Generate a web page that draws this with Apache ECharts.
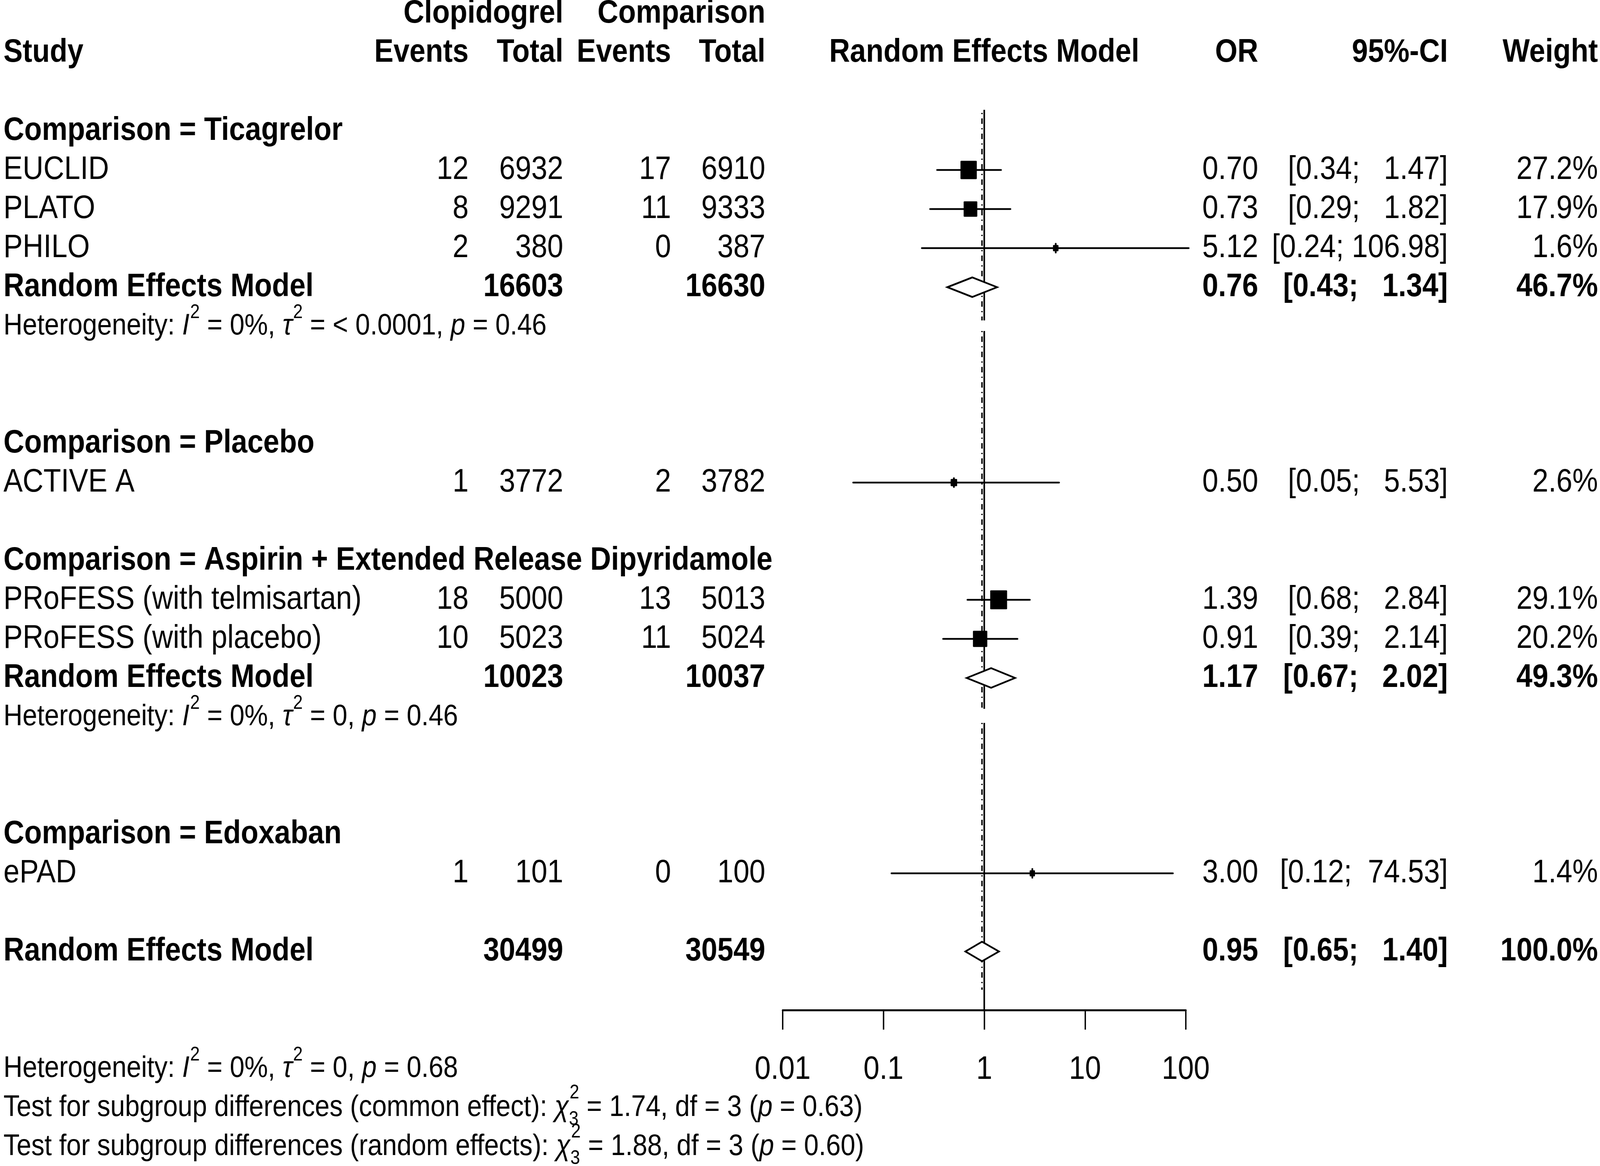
<!DOCTYPE html>
<html><head><meta charset="utf-8">
<script src="https://cdn.jsdelivr.net/npm/echarts@6.0.0/dist/echarts.min.js"></script>
<style>html,body{margin:0;padding:0;background:#fff;overflow:hidden;width:100%;height:100%}
#c{width:4616px;height:2984px;transform-origin:0 0;position:absolute;left:0;top:0}</style>
</head><body><div id="c"></div>
<script>
// ---------------- DATA ----------------
const groupNames = ['Ticagrelor', 'Placebo', 'Aspirin + Extended Release Dipyridamole', 'Edoxaban'];
const studyNames = ['EUCLID', 'PLATO', 'PHILO', 'ACTIVE A', 'PRoFESS (with telmisartan)', 'PRoFESS (with placebo)', 'ePAD'];
const studyGroup = [0, 0, 0, 1, 2, 2, 3];
const clopEvents = [12, 8, 2, 1, 18, 10, 1];
const clopTotal = [6932, 9291, 380, 3772, 5000, 5023, 101];
const compEvents = [17, 11, 0, 2, 13, 11, 0];
const compTotal = [6910, 9333, 387, 3782, 5013, 5024, 100];
const studyOR = [0.70, 0.73, 5.12, 0.50, 1.39, 0.91, 3.00];
const studyLower = [0.34, 0.29, 0.24, 0.05, 0.68, 0.39, 0.12];
const studyUpper = [1.47, 1.82, 106.98, 5.53, 2.84, 2.14, 74.53];
const studyWeight = [27.2, 17.9, 1.6, 2.6, 29.1, 20.2, 1.4];

const pooledGroup = [0, 2];
const pooledOR = [0.76, 1.17];
const pooledLower = [0.43, 0.67];
const pooledUpper = [1.34, 2.02];
const pooledWeight = [46.7, 49.3];
const pooledClopTotal = [16603, 10023];
const pooledCompTotal = [16630, 10037];
const pooledI2 = ['0%', '0%'];
const pooledTau2 = ['< 0.0001', '0'];
const pooledHetP = ['0.46', '0.46'];

const overallOR = 0.95, overallLower = 0.65, overallUpper = 1.40, overallWeight = 100.0;
const overallClopTotal = 30499, overallCompTotal = 30549;
const overallI2 = '0%', overallTau2 = '0', overallHetP = '0.68';
const testLabels = ['common effect', 'random effects'];
const testChi2 = ['1.74', '1.88'];
const testDf = ['3', '3'];
const testP = ['0.63', '0.60'];

const tickValues = [0.01, 0.1, 1, 10, 100];
const tickLabels = ['0.01', '0.1', '1', '10', '100'];

// ---------------- LAYOUT / STYLE ----------------
const W = 4616, H = 2984;
const FONT = '"Liberation Sans", Arial, Helvetica, sans-serif';
const FS = 83, HFS = 76, SUPFS = 50;
const COL = { study: 10, ce: 1352, ct: 1625, pe: 1936, pt: 2208, or: 3630, ci: 4177, w: 4610 };
const LW = 4.5;

// map the 4616x2984 design onto the actual viewport
(function fit() {
  const sx = window.innerWidth / W, sy = window.innerHeight / H;
  document.getElementById('c').style.transform = 'scale(' + sx + ',' + sy + ')';
})();

// row layout
const studyRow = [], headerRow = [], pooledRow = [], hetRow = [];
let r = 3;
groupNames.forEach((g, gi) => {
  headerRow[gi] = r++;
  studyGroup.forEach((sg, si) => { if (sg === gi) studyRow[si] = r++; });
  const pi = pooledGroup.indexOf(gi);
  if (pi >= 0) { pooledRow[pi] = r++; hetRow[pi] = r++; r += 2; } else { r += 1; }
});
const overallRow = r;
const overallHetRow = overallRow + 3;
const refSolidSpans = [[2.46, 7.85], [8.12, 17.79], [18.15, 25.5]];
const refDotSpans = [[2.54, 7.85], [8.12, 17.79], [18.15, 24.98]];

const f2 = v => v.toFixed(2);
const fw = v => v.toFixed(1) + '%';
const fci = (lo, up) => '[' + f2(lo) + '; ' + f2(up).padStart(6) + ']';

// text items
const texts = [];
function T(row, x, text, align, bold) { texts.push({ row, x, text: String(text), align: align || 'right', bold: !!bold }); }
function R(row, x, parts) { texts.push({ row, x, parts }); }

T(0, COL.ct, 'Clopidogrel', 'right', true);
T(0, COL.pt, 'Comparison', 'right', true);
T(1, COL.study, 'Study', 'left', true);
T(1, COL.ce, 'Events', 'right', true);
T(1, COL.ct, 'Total', 'right', true);
T(1, COL.pe, 'Events', 'right', true);
T(1, COL.pt, 'Total', 'right', true);
T(1, 'center1', 'Random Effects Model', 'center', true);
T(1, COL.or, 'OR', 'right', true);
T(1, COL.ci, '95%-CI', 'right', true);
T(1, COL.w, 'Weight', 'right', true);

groupNames.forEach((g, gi) => T(headerRow[gi], COL.study, 'Comparison = ' + g, 'left', true));
studyNames.forEach((s, i) => {
  const row = studyRow[i];
  T(row, COL.study, s, 'left');
  T(row, COL.ce, clopEvents[i]);
  T(row, COL.ct, clopTotal[i]);
  T(row, COL.pe, compEvents[i]);
  T(row, COL.pt, compTotal[i]);
  T(row, COL.or, f2(studyOR[i]));
  T(row, COL.ci, fci(studyLower[i], studyUpper[i]));
  T(row, COL.w, fw(studyWeight[i]));
});
function hetParts(i2, tau2, p) {
  return [{ t: 'Heterogeneity: ' }, { t: 'I', it: true }, { sup: '2' }, { t: ' = ' + i2 + ', ' },
    { t: 'τ', it: true }, { sup: '2' }, { t: ' = ' + tau2 + ', ' }, { t: 'p', it: true }, { t: ' = ' + p }];
}
pooledGroup.forEach((g, pi) => {
  const row = pooledRow[pi];
  T(row, COL.study, 'Random Effects Model', 'left', true);
  T(row, COL.ct, pooledClopTotal[pi], 'right', true);
  T(row, COL.pt, pooledCompTotal[pi], 'right', true);
  T(row, COL.or, f2(pooledOR[pi]), 'right', true);
  T(row, COL.ci, fci(pooledLower[pi], pooledUpper[pi]), 'right', true);
  T(row, COL.w, fw(pooledWeight[pi]), 'right', true);
  R(hetRow[pi], COL.study, hetParts(pooledI2[pi], pooledTau2[pi], pooledHetP[pi]));
});
T(overallRow, COL.study, 'Random Effects Model', 'left', true);
T(overallRow, COL.ct, overallClopTotal, 'right', true);
T(overallRow, COL.pt, overallCompTotal, 'right', true);
T(overallRow, COL.or, f2(overallOR), 'right', true);
T(overallRow, COL.ci, fci(overallLower, overallUpper), 'right', true);
T(overallRow, COL.w, fw(overallWeight), 'right', true);
R(overallHetRow, COL.study, hetParts(overallI2, overallTau2, overallHetP));
testLabels.forEach((lab, k) => {
  R(overallHetRow + 1 + k, COL.study, [{ t: 'Test for subgroup differences (' + lab + '): ' }, { t: 'χ', it: true },
    { sup: '2', sub: testDf[k] }, { t: ' = ' + testChi2[k] + ', df = ' + testDf[k] + ' (' }, { t: 'p', it: true }, { t: ' = ' + testP[k] + ')' }]);
});

// text measuring
const mctx = document.createElement('canvas').getContext('2d');
function measure(t, size, italic, bold) {
  mctx.font = (italic ? 'italic ' : '') + (bold ? 'bold ' : '') + size + 'px ' + FONT;
  return mctx.measureText(t).width;
}
function textEl(x, y, t, size, italic, bold, align) {
  return { type: 'text', style: { x, y, text: t, fill: '#000', fontSize: size, fontFamily: FONT,
    fontStyle: italic ? 'italic' : 'normal', fontWeight: bold ? 'bold' : 'normal', align: align || 'left', verticalAlign: 'middle' } };
}
const MID = 0.3465;
function richEls(x0, cy, parts) {
  const els = []; let x = x0;
  const base = cy + MID * HFS;
  parts.forEach(p => {
    if (p.sup !== undefined || p.sub !== undefined) {
      let w = 0;
      if (p.sup !== undefined) {
        const sh = p.sub !== undefined ? 0.62 : 0.58;
        els.push(textEl(x + 2, base - sh * HFS - MID * SUPFS, p.sup, SUPFS));
        w = Math.max(w, measure(p.sup, SUPFS));
      }
      if (p.sub !== undefined) {
        els.push(textEl(x, base + 0.28 * HFS - MID * SUPFS, p.sub, SUPFS));
        w = Math.max(w, measure(p.sub, SUPFS));
      }
      x += w + 2;
    } else {
      els.push(textEl(x, cy, p.t, HFS, p.it));
      x += measure(p.t, HFS, p.it);
    }
  });
  return els;
}

// ---------------- CHART ----------------
const chart = echarts.init(document.getElementById('c'), null, { renderer: 'canvas', width: W, height: H });
const studyData = studyOR.map((v, i) => [v, studyRow[i], studyLower[i], studyUpper[i], studyWeight[i]]);
const diamondData = pooledOR.map((v, i) => [v, pooledRow[i], pooledLower[i], pooledUpper[i]])
  .concat([[overallOR, overallRow, overallLower, overallUpper]]);
const refData = refSolidSpans.map(s => [1, s[0], s[1], 0]).concat(refDotSpans.map(s => [overallOR, s[0], s[1], 1]));

chart.setOption({
  animation: false,
  backgroundColor: '#fff',
  grid: { left: 2258, right: W - 3421, top: 35, bottom: H - 2585, containLabel: false },
  xAxis: {
    type: 'log', logBase: 10, min: 0.01, max: 100,
    axisLine: { show: true, onZero: false, lineStyle: { color: '#000', width: 5 } },
    axisTick: { show: true, inside: false, length: 50, lineStyle: { color: '#000', width: 4 } },
    splitLine: { show: false }, minorTick: { show: false },
    axisLabel: {
      margin: 112, fontSize: FS, fontFamily: FONT, color: '#000',
      formatter: v => {
        const k = tickValues.findIndex(t => Math.abs(Math.log10(t) - Math.log10(v)) < 1e-6);
        return k >= 0 ? tickLabels[k] : '';
      }
    }
  },
  yAxis: { type: 'value', min: 0, max: 25.5, inverse: true, show: false },
  series: [
    {
      type: 'custom', clip: false, data: refData, encode: { x: 0, y: 1 }, z: 1,
      renderItem: (params, api) => {
        const a = api.coord([api.value(0), api.value(1)]);
        const b = api.coord([api.value(0), api.value(2)]);
        const dotted = api.value(3) === 1;
        return { type: 'line', shape: { x1: a[0], y1: a[1], x2: b[0], y2: b[1] },
          style: { stroke: '#000', lineWidth: dotted ? 4 : LW, lineDash: dotted ? [3, 11, 14, 11] : null } };
      }
    },
    {
      type: 'custom', clip: false, data: studyData, encode: { x: 0, y: 1 }, z: 2,
      renderItem: (params, api) => {
        const c = api.coord([api.value(0), api.value(1)]);
        const l = api.coord([api.value(2), api.value(1)]);
        const u = api.coord([api.value(3), api.value(1)]);
        const s = 6 + 7.9 * Math.sqrt(api.value(4));
        return { type: 'group', children: [
          { type: 'line', shape: { x1: l[0], y1: l[1], x2: u[0], y2: u[1] }, style: { stroke: '#000', lineWidth: LW, lineCap: 'round' } },
          { type: 'line', shape: { x1: c[0], y1: c[1] - 11, x2: c[0], y2: c[1] + 11 }, style: { stroke: '#000', lineWidth: 5, lineCap: 'round' } },
          { type: 'rect', shape: { x: c[0] - s / 2, y: c[1] - s / 2, width: s, height: s, r: 2 }, style: { fill: '#000' } }
        ] };
      }
    },
    {
      type: 'custom', clip: false, data: diamondData, encode: { x: 0, y: 1 }, z: 3,
      renderItem: (params, api) => {
        const c = api.coord([api.value(0), api.value(1)]);
        const l = api.coord([api.value(2), api.value(1)]);
        const u = api.coord([api.value(3), api.value(1)]);
        const hh = 25;
        return { type: 'polygon', shape: { points: [[l[0], l[1]], [c[0], c[1] - hh], [u[0], u[1]], [c[0], c[1] + hh]] },
          style: { fill: '#fff', stroke: '#000', lineWidth: LW, lineJoin: 'miter' } };
      }
    },
    {
      type: 'custom', clip: false, data: texts.map((t, i) => [1, t.row, i]), encode: { x: 0, y: 1 }, z: 4,
      renderItem: (params, api) => {
        const t = texts[api.value(2)];
        const p = api.coord([1, t.row]);
        const cy = p[1];
        if (t.parts) return { type: 'group', children: richEls(t.x, cy, t.parts) };
        const x = t.x === 'center1' ? p[0] : t.x;
        return textEl(x, cy, t.text, FS, false, t.bold, t.align);
      }
    }
  ]
});
</script></body></html>
